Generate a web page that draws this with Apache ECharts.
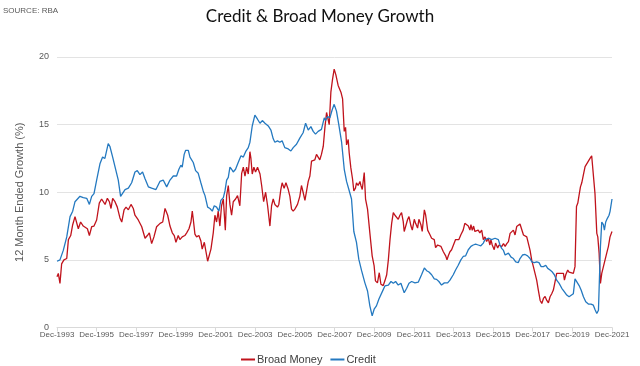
<!DOCTYPE html>
<html><head><meta charset="utf-8">
<script src="https://cdn.jsdelivr.net/npm/echarts@6/dist/echarts.min.js"></script>
<style>html,body{margin:0;padding:0;background:#fff}#c{width:640px;height:366px}</style>
</head><body><div id="c"></div>
<script>
// x = months since Dec-1993
const tickLabels = ['Dec-1993','Dec-1995','Dec-1997','Dec-1999','Dec-2001','Dec-2003','Dec-2005','Dec-2007','Dec-2009','Dec-2011','Dec-2013','Dec-2015','Dec-2017','Dec-2019','Dec-2021'];
const seriesNames = ['Broad Money','Credit'];

const broadMoney = [[0,3.75],[0.8,4.0],[1.8,3.26],[2.8,4.7],[4.2,5.0],[5.9,5.1],[6.9,6.5],[8.3,6.8],[9.5,7.6],[10.9,8.2],[11.9,8.15],[12.9,7.3],[14.3,7.8],[15.9,7.5],[17,7.6],[18.4,7.3],[19.6,6.8],[21,7.45],[22.4,7.5],[24,7.95],[25.6,9.2],[27,9.5],[28.1,9.55],[29.1,9.1],[30.5,9.55],[31.7,9.3],[32.7,8.8],[33.7,9.55],[35.1,9.3],[36.5,8.9],[38.1,8.1],[39.2,7.8],[40.6,8.7],[41.8,8.9],[43.2,8.7],[44.8,9.1],[46.2,8.8],[47.2,8.3],[49.2,7.95],[51.3,7.45],[53.3,6.6],[54.7,6.8],[55.9,7.0],[57.3,6.2],[58.7,6.7],[60.3,7.45],[62.4,7.7],[64,7.8],[65.4,8.8],
[67,8.3],[68.4,7.5],[69.8,7.0],[71,6.8],[72,6.3],[73.4,6.8],[74.4,6.5],[75.8,6.7],[77.4,6.8],[78.5,7.0],[79.9,7.3],[81.1,7.8],[81.9,8.6],[82.5,8.0],[83.5,6.9],[84.5,6.7],[85.9,6.8],[87.1,6.4],[87.9,5.8],[89.2,6.3],[90.2,5.6],[91.2,4.9],[92,4.8],[93.2,5.8],[94.6,7.0],[95.6,8.3],[96.6,7.8],[97.6,8.6],[98.6,7.5],[99.6,9.0],[100.7,9.5],[101.9,7.2],[102.7,9.75],[103.7,10.5],[104.7,9.1],[105.7,8.3],[106.7,9.3],[108.1,9.5],[109.3,9.75],[110.7,9.0],[111.8,11.4],[112.8,11.85],[113.8,11.2],[114.8,11.85],[115.8,11.35],[116.8,13.0],[117.4,12.5],[118.2,11.35],[119.2,11.85],[120.2,11.5],[121.4,11.85],[122.9,11.35],[123.9,10.5],[125.1,9.3],[126.3,10.0],[127.5,9.0],[128.9,7.5],[129.9,9.0],[130.9,9.5],
[131.9,9.1],[133.5,8.9],[134.3,9.1],[135.5,10.2],[136.3,10.7],[137.5,10.3],[138.6,10.7],[140,10.2],[141,9.7],[142,8.75],[143,8.6],[144,8.75],[145.6,9.1],[147,9.7],[148,10.5],[149,10.0],[150.1,9.4],[151.1,10.1],[152.1,10.8],[153.1,11.2],[154.1,12.3],[155.1,12.25],[156.1,12.4],[157.1,12.8],[158.1,12.7],[159.1,12.4],[160.1,12.8],[161.2,13.4],[162.2,14.8],[163.2,15.9],[164.2,16.0],[164.8,15.0],[165.8,17.4],[166.8,18.35],[167.8,19.1],[168.8,18.7],[170.2,17.9],[171.9,17.4],[172.9,16.9],[173.9,14.5],[174.7,14.8],[175.3,13.5],[176.3,13.9],[176.9,12.9],[177.9,11.8],[178.9,11.0],[179.7,10.1],[180.7,10.3],[181.3,10.7],[182.3,10.5],[183.4,10.8],[184,10.5],[184.8,10.2],[186,11.45],[186.8,9.5],[188,8.75],[189.4,7.0],[190.8,5.3],[192,4.55],[192.8,3.45],[194,3.3],[195.1,4.05],[196.1,3.2],[197.5,3.1],[198.5,3.45],
[199.6,3.9],[200.6,5.0],[201.6,6.5],[202.6,7.7],[203.6,8.5],[204.6,8.3],[205.6,8.2],[206.6,8.0],[207.6,8.3],[208.6,8.5],[209.6,7.85],[210.2,7.1],[211.1,7.2],[212.3,8.0],[213.1,8.2],[214.3,7.5],[215.1,7.2],[216.3,8.0],[217.1,7.7],[218.3,7.35],[219.1,8.0],[220.3,7.6],[221.1,7.1],[222.4,8.7],[223.2,8.3],[224.4,7.2],[225.8,6.86],[226.8,6.6],[228.4,6.5],[229.2,5.9],[230.4,6.1],[231.2,6.24],[232.4,6.0],[233.9,5.6],[235.3,5.3],[236.1,5.0],[236.9,5.3],[237.9,5.6],[238.9,5.75],[239.9,5.87],[241.3,6.5],[242.5,6.36],[243.3,6.5],[244.5,6.86],[245.9,7.2],[246.9,7.7],[248,7.6],[249,7.5],[250,7.2],[250.6,7.6],[251.4,7.18],[252.2,7.5],[253,7.1],[254,7.2],[255,7.2],[256,7.0],[257.1,7.2],[258.1,6.5],[259.1,6.7],[260.1,6.36],[261.1,6.6],[262.1,6.1],[262.7,6.5],[263.5,6.1],[264.7,5.75],[265.5,6.24],[266.8,5.87],[267.6,6.1],
[268.2,6.2],[269.2,5.98],[270.3,6.2],[271.3,6.0],[272.3,6.2],[273.3,6.35],[274.3,6.96],[275.3,7.1],[276.3,7.2],[277.3,6.84],[278.3,7.46],[279.3,7.33],[280.3,7.65],[281.4,7.7],[282.4,6.84],[283.4,6.77],[284.4,6.7],[285.4,6.6],[286.4,5.7],[287.4,4.98],[288.4,4.5],[289.4,4.0],[290.4,3.5],[291.4,2.77],[292.5,2.0],[293.5,1.78],[294.5,2.15],[295.5,2.3],[296.5,2.0],[297.5,1.83],[298.5,2.27],[299.5,2.5],[300.5,2.77],[301.5,3.38],[302.5,4.0],[303.6,4.1],[304.6,4.0],[305.6,4.1],[306.6,4.0],[307.2,3.5],[308,3.9],[309.2,4.25],[310,4.1],[311.2,4.05],[312.6,4.0],[313.6,4.5],[314.5,8.94],[315.3,9.2],[316.1,9.8],[316.9,10.4],[317.7,10.7],[318.7,11.3],[319.7,11.9],[320.7,12.0],[321.7,12.3],[322.7,12.5],[323.7,12.7],[324.7,12.65],[325.7,9.9],[326.8,6.96],[327.4,6.7],[328.2,5.5],[329,3.26],[329.8,4.0],[330.8,4.5],[331.8,5.0],[332.8,5.5],[333.8,5.98],[334.8,6.7],[336,7.1]];

const credit = [[0,4.9],[1.8,5.0],[3.8,5.7],[5.9,6.7],[7.9,8.2],[9.5,8.6],[10.9,9.3],[13.9,9.7],[15.9,9.6],[18,9.55],[19.6,9.1],[21,9.7],[22.4,9.9],[24,10.9],[26,12.1],[27.6,12.6],[29,12.5],[31,13.6],[32,13.4],[33.7,12.6],[35.1,11.9],[37.1,10.9],[38.5,9.7],[39.7,9.7],[41.2,10.2],[43.2,10.3],[45.2,10.7],[47.2,11.5],[48.6,11.6],[50.2,11.3],[51.8,11.5],[53.3,11.0],[55.3,10.4],[57.3,10.3],[59.9,10.2],[62.3,10.8],[64.3,10.9],
[66.4,10.4],[68.4,10.9],[70.4,11.2],[72.4,11.2],[73.8,11.7],[75,12.0],[75.8,11.85],[77,12.8],[77.9,13.1],[79.5,13.1],[80.5,12.6],[82.5,12.2],[83.9,11.6],[85.5,11.4],[87.1,10.7],[88.5,10.1],[89.6,9.75],[91.2,8.9],[92.6,8.8],[94,8.6],[95.2,9.0],[96.6,8.9],[98,8.6],[99.2,9.4],[100.7,9.6],[101.7,10.1],[102.7,10.9],[103.7,11.1],[104.7,11.85],[105.7,11.7],[106.7,11.5],[108.1,11.7],[109.7,12.2],[111.4,12.7],[112.8,12.6],[114.2,13.0],[115.8,13.3],[116.8,13.7],[118.2,14.9],[119.8,15.7],[121.4,15.4],[122.9,15.1],[124.3,15.3],[125.9,15.1],[127.9,14.9],[129.5,14.6],[130.9,13.95],
[131.9,13.7],[133.5,13.8],[134.9,13.7],[136.3,13.8],[137.9,13.3],[140,13.2],[141.6,13.05],[143,13.3],[145,13.55],[147,14.0],[149,14.4],[150.5,15.1],[152.1,14.6],[153.7,14.85],[155.1,14.5],[156.5,14.3],[158.1,14.5],[160.1,14.65],[161.8,15.5],[162.6,15.3],[163.8,15.6],[165.2,15.5],[166.6,16.1],[167.8,16.5],[169.2,16.0],[170.6,15.0],[172.3,13.7],[173.9,11.7],[175.3,10.8],[176.7,10.2],[178.3,9.5],[179.7,7.1],[181.3,6.3],[182.7,5.05],[184.4,4.2],[186.4,3.3],[188,2.7],[189.4,1.6],[190.8,0.86],[192,1.35],[193.4,1.6],[194.9,2.1],[196.1,2.2],[197.5,2.8],
[198.5,3.07],[200.6,3.14],[202.2,3.4],[203.6,3.27],[205,3.4],[206.6,3.14],[208.2,3.27],[210.2,2.57],[211.7,2.9],[213.1,3.27],[214.7,3.4],[216.7,3.3],[218.7,3.35],[220.7,3.9],[222.4,4.4],[223.8,4.2],[225.2,4.1],[226.8,3.9],[228.4,3.6],[229.8,3.56],[231.2,3.4],[232.8,3.14],[234.5,3.3],[236.5,3.3],[237.9,3.5],[239.9,3.9],[241.3,4.25],[242.9,4.6],[244.5,5.0],[245.9,5.25],[247.4,5.3],[249,5.75],[250.6,6.0],[252,6.1],[253.4,6.16],[255,6.1],[256.6,6.04],[258.1,6.24],[259.1,6.5],[260.1,6.6],[261.5,6.6],[263.1,6.5],
[265.2,6.6],[266.2,6.5],[267.2,6.5],[268.2,6.1],[269.2,5.85],[270.3,5.7],[271.3,5.36],[272.3,5.5],[273.3,5.5],[274.9,5.2],[276.3,5.1],[277.7,4.86],[279.3,4.8],[280.3,5.1],[281.8,5.36],[283.4,5.4],[284.9,5.3],[286.4,5.1],[287.4,4.86],[289,4.8],[290.4,4.86],[291.8,4.8],[293.1,4.5],[294.5,4.5],[295.9,4.6],[297.1,4.37],[298.5,4.25],[299.9,4.1],[301.1,3.9],[302.5,3.5],[304,3.26],[305.6,2.9],[307.2,2.64],[308.6,2.4],[310,2.27],[311.2,2.27],[312.6,2.5],[313.6,3.6],[314.7,3.5],[316.1,3.1],[317.3,2.77],[318.7,2.27],[320.1,1.9],[321.7,1.73],[323.3,1.73],[324.7,1.65],[325.7,1.33],[326.8,1.04],[327.8,1.28],[329,6.0],[329.8,7.8],[330.8,7.6],[331.4,7.2],[332.2,7.8],[333.2,8.07],[334.2,8.3],[334.8,8.57],[336,9.5]];

const chart = echarts.init(document.getElementById('c'), null, {renderer:'canvas'});
const labelFont = 'Liberation Sans, Arial, sans-serif';
chart.setOption({
  animation: false,
  backgroundColor: '#fff',
  title: {
    text: 'Credit & Broad Money Growth', left: 'center', top: 3,
    textStyle: {fontFamily: 'Lato, Open Sans, sans-serif', fontSize: 17, fontWeight: 'normal', color: '#111'}
  },
  graphic: [{type:'text', left: 3, top: 7, style: {text: 'SOURCE: RBA', fontSize: 8, fontFamily: labelFont, fill: '#595959'}}],
  legend: {
    data: seriesNames, left: 236, top: 349, icon: 'rect', itemWidth: 14, itemHeight: 2, itemGap: 8,
    textStyle: {fontFamily: labelFont, fontSize: 11, color: '#404040', padding: [0,0,0,-3]}
  },
  grid: {left: 57, right: 28, top: 57, bottom: 38.5},
  xAxis: {
    type: 'value', min: 0, max: 336, interval: 24,
    axisLine: {show: true, lineStyle: {color: '#d9d9d9'}},
    axisTick: {show: true, length: 4, lineStyle: {color: '#d9d9d9'}},
    splitLine: {show: false},
    axisLabel: {fontFamily: labelFont, fontSize: 8, color: '#595959', margin: 3,
      formatter: v => tickLabels[Math.round(v / 24)] || ''}
  },
  yAxis: {
    type: 'value', min: 0, max: 20, interval: 5,
    name: '12 Month Ended Growth (%)', nameLocation: 'middle', nameGap: 32,
    nameTextStyle: {fontFamily: labelFont, fontSize: 11, color: '#595959'},
    axisLine: {show: false}, axisTick: {show: false},
    splitLine: {lineStyle: {color: '#e3e3e3'}},
    axisLabel: {fontFamily: labelFont, fontSize: 9, color: '#595959', margin: 8}
  },
  series: [
    {name: seriesNames[0], type: 'line', data: broadMoney, showSymbol: false, symbol: 'none',
     lineStyle: {color: '#C0131C', width: 1.3}, itemStyle: {color: '#C0131C'}},
    {name: seriesNames[1], type: 'line', data: credit, showSymbol: false, symbol: 'none',
     lineStyle: {color: '#2479C0', width: 1.3}, itemStyle: {color: '#2479C0'}}
  ]
});
</script></body></html>
